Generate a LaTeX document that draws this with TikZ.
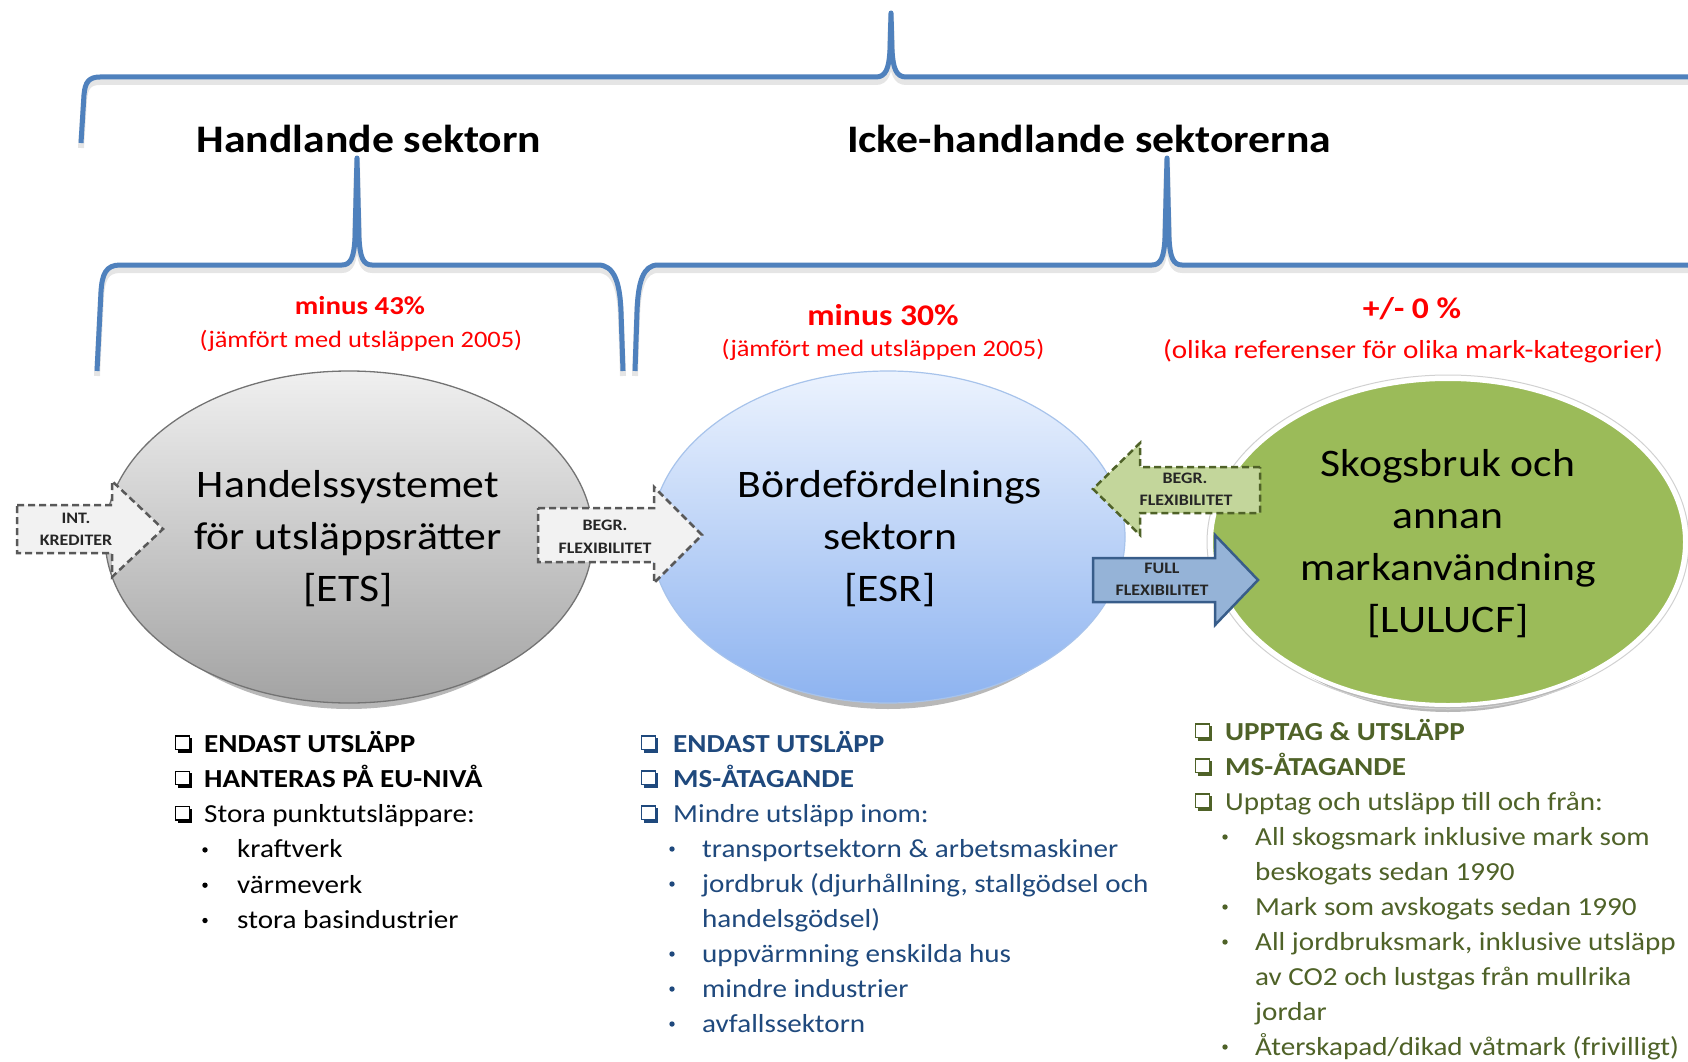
\documentclass[tikz,border=0pt]{standalone}
\usepackage{fontspec}
\setmainfont{Carlito}[FakeStretch=1.12]
\usetikzlibrary{shapes.geometric}
\definecolor{bracec}{HTML}{4F81BD}
\definecolor{esrtxt}{HTML}{1F497D}
\definecolor{lultxt}{HTML}{4F6228}
\definecolor{lulfill}{HTML}{9BBB59}
\definecolor{greyarr}{HTML}{F2F2F2}
\definecolor{greyline}{HTML}{595959}
\definecolor{grnarr}{HTML}{C3D69B}
\definecolor{bluarr}{HTML}{95B3D7}
\definecolor{bluline}{HTML}{385D8A}
\newcommand\fsz[1]{\fontsize{#1}{#1}\selectfont}
\newcommand\cbox[3]{%
  \draw[#3, line width=1.4pt] (#1+0.7,#2-16) rectangle (#1+14.3,#2-2.6);
  \draw[#3, line width=2.8pt] (#1+2.5,#2-0.8) -- (#1+16,#2-0.8) -- (#1+16,#2-14);}
\newcommand\bul[3]{\fill[#3] (#1,#2-8) circle (2.7pt);}
\tikzset{
  brace/.style={draw=bracec, line width=5pt, line join=round},
  braceshadow/.style={draw=black, opacity=0.10, line width=6pt, line join=round},
  ttl/.style={font=\fsz{39}\bfseries, anchor=base, inner sep=0pt},
  redb/.style={text=red, anchor=base, inner sep=0pt},
  elltxt/.style={font=\fsz{39}, anchor=base, inner sep=0pt},
  arrtxt/.style={font=\fsz{16}\bfseries, anchor=base, inner sep=0pt, text=black!85},
  dasharrow/.style={line width=2.5pt, dash pattern=on 7pt off 4pt, line join=miter},
  lst/.style={font=\fsz{26}, anchor=base west, inner sep=0pt},
  ellshadow/.style={fill=black, opacity=0.28},
}
\begin{document}
\begin{tikzpicture}[x=1pt,y=-1pt]
\useasboundingbox (0,0) rectangle (1688,1062);
\clip (0,0) rectangle (1688,1062);
\fill[white] (0,0) rectangle (1688,1062);

% ---------- braces ----------
\foreach \s/\d in {braceshadow/5, brace/0}{
\begin{scope}[yshift=-\d pt]
\draw[\s] (81,143) -- (84,95) .. controls (85,82) and (89,77) .. (100,77)
  -- (876,77) .. controls (886,77) and (889,68) .. (890,50) -- (891,13)
  -- (892,50) .. controls (893,68) and (896,77) .. (906,77) -- (1692,77);
\draw[\s] (97,371) -- (101,292) .. controls (102,274) and (106,265) .. (120,265)
  -- (342,265) .. controls (351,265) and (354,257) .. (355,238) -- (357,158)
  -- (359,238) .. controls (360,257) and (363,265) .. (372,265)
  -- (598,265) .. controls (614,265) and (620,282) .. (621,312) -- (623,371);
\draw[\s] (635,371) -- (637,312) .. controls (638,282) and (643,265) .. (658,265)
  -- (1152,265) .. controls (1161,265) and (1164,257) .. (1165,238) -- (1167,158)
  -- (1169,238) .. controls (1170,257) and (1173,265) .. (1182,265) -- (1692,265);
\end{scope}}

% ---------- titles ----------
\node[ttl] (hs) at (369,153) {Handlande sektorn};
\node[ttl] (ih) at (1089,153) {Icke-handlande sektorerna};

% ---------- red targets ----------
\node[redb, font=\fsz{25.8}\bfseries] (m43) at (360,314) {minus 43\%};
\node[redb, font=\fsz{23.6}] (j43) at (361,347) {(jämfört med utsläppen 2005)};
\node[redb, font=\fsz{30}\bfseries] (m30) at (883,325) {minus 30\%};
\node[redb, font=\fsz{23.6}] (j30) at (883,356) {(jämfört med utsläppen 2005)};
\node[redb, font=\fsz{30}\bfseries] (p0) at (1412,318) {+/- 0 \%};
\node[redb, font=\fsz{26}] (ol) at (1413,358) {(olika referenser för olika mark-kategorier)};

% ---------- ellipses ----------
\fill[ellshadow] (349,547) ellipse [x radius=226pt, y radius=162pt];
\fill[ellshadow] (888,547) ellipse [x radius=219pt, y radius=162pt];
\fill[ellshadow] (1448,552) ellipse [x radius=220pt, y radius=160pt];
\node[ellipse, minimum width=488pt, minimum height=332pt, inner sep=0pt,
  top color=black!6, bottom color=black!36, draw=black!55, line width=1.3pt] (ets) at (349,537) {};
\node[ellipse, minimum width=474pt, minimum height=332pt, inner sep=0pt,
  top color={rgb,255:red,236;green,243;blue,254}, bottom color={rgb,255:red,141;green,179;blue,240},
  draw={rgb,255:red,167;green,195;blue,235}, line width=1.2pt] (esr) at (888,537) {};
\node[ellipse, minimum width=482pt, minimum height=334pt, inner sep=0pt, draw=black!18, line width=1pt] (lulring) at (1448,542) {};
\node[ellipse, minimum width=474pt, minimum height=326pt, inner sep=0pt,
  fill=lulfill, draw=white, line width=4pt] (lul) at (1448,542) {};

\node[elltxt] (ets1) at (348,497) {Handelssystemet};
\node[elltxt] (ets2) at (348,549) {för utsläppsrätter};
\node[elltxt] (ets3) at (348,601) {[ETS]};
\node[elltxt] (esr1) at (890,497) {Bördefördelnings};
\node[elltxt] (esr2) at (890,549) {sektorn};
\node[elltxt] (esr3) at (890,601) {[ESR]};
\node[elltxt] (lul1) at (1448,476) {Skogsbruk och};
\node[elltxt] (lul2) at (1448,528) {annan};
\node[elltxt] (lul3) at (1448,580) {markanvändning};
\node[elltxt] (lul4) at (1448,632) {[LULUCF]};

% ---------- block arrows ----------
\draw[dasharrow, fill=greyarr, draw=greyline]
  (17,505) -- (112,505) -- (112,481) -- (163,529) -- (112,577) -- (112,553) -- (17,553) -- cycle;
\node[arrtxt] (int1) at (76,523) {INT.};
\node[arrtxt] (int2) at (76,545) {KREDITER};

\draw[dasharrow, fill=greyarr, draw=greyline]
  (538,508) -- (654,508) -- (654,487) -- (702,535) -- (654,583) -- (654,562) -- (538,562) -- cycle;
\node[arrtxt] (bg1) at (605,530) {BEGR.};
\node[arrtxt] (bg2) at (605,553) {FLEXIBILITET};

\draw[dasharrow, fill=grnarr, draw=lultxt]
  (1260,467) -- (1140,467) -- (1140,443) -- (1093,489) -- (1140,535) -- (1140,513) -- (1260,513) -- cycle;
\node[arrtxt] (gb1) at (1185,483) {BEGR.};
\node[arrtxt] (gb2) at (1186,505) {FLEXIBILITET};

\draw[line width=2.5pt, fill=bluarr, draw=bluline, line join=miter]
  (1093,558) -- (1215,558) -- (1215,535) -- (1258,580) -- (1215,625) -- (1215,602) -- (1093,602) -- cycle;
\node[arrtxt] (fl1) at (1162,573) {FULL};
\node[arrtxt] (fl2) at (1162,595) {FLEXIBILITET};

% ---------- ETS list ----------
\cbox{175}{752}{black}
\cbox{175}{787.3}{black}
\cbox{175}{822.6}{black}
\node[lst, font=\fsz{26}\bfseries] (a1) at (204,752) {ENDAST UTSLÄPP};
\node[lst, font=\fsz{26}\bfseries] (a2) at (204,787.3) {HANTERAS PÅ EU-NIVÅ};
\node[lst] (a3) at (204,822.6) {Stora punktutsläppare:};
\bul{205}{857.9}{black}
\bul{205}{893.2}{black}
\bul{205}{928.5}{black}
\node[lst] (a4) at (237,857.9) {kraftverk};
\node[lst] (a5) at (237,893.2) {värmeverk};
\node[lst] (a6) at (237,928.5) {stora basindustrier};

% ---------- ESR list ----------
\cbox{641}{752}{esrtxt}
\cbox{641}{787}{esrtxt}
\cbox{641}{822}{esrtxt}
\node[lst, text=esrtxt, font=\fsz{26}\bfseries] (b1) at (673,752) {ENDAST UTSLÄPP};
\node[lst, text=esrtxt, font=\fsz{26}\bfseries] (b2) at (673,787) {MS-ÅTAGANDE};
\node[lst, text=esrtxt] (b3) at (673,822) {Mindre utsläpp inom:};
\bul{672}{857}{esrtxt}
\bul{672}{892}{esrtxt}
\bul{672}{962}{esrtxt}
\bul{672}{997}{esrtxt}
\bul{672}{1032}{esrtxt}
\node[lst, text=esrtxt] (b4) at (702,857) {transportsektorn \& arbetsmaskiner};
\node[lst, text=esrtxt] (b5) at (702,892) {jordbruk (djurhållning, stallgödsel och};
\node[lst, text=esrtxt] (b6) at (702,927) {handelsgödsel)};
\node[lst, text=esrtxt] (b7) at (702,962) {uppvärmning enskilda hus};
\node[lst, text=esrtxt] (b8) at (702,997) {mindre industrier};
\node[lst, text=esrtxt] (b9) at (702,1032) {avfallssektorn};

% ---------- LULUCF list ----------
\cbox{1195}{740}{lultxt}
\cbox{1195}{775}{lultxt}
\cbox{1195}{810}{lultxt}
\node[lst, text=lultxt, font=\fsz{26}\bfseries] (c1) at (1225,740) {UPPTAG \& UTSLÄPP};
\node[lst, text=lultxt, font=\fsz{26}\bfseries] (c2) at (1225,775) {MS-ÅTAGANDE};
\node[lst, text=lultxt] (c3) at (1225,810) {Upptag och utsläpp till och från:};
\bul{1225}{845}{lultxt}
\bul{1225}{915}{lultxt}
\bul{1225}{950}{lultxt}
\bul{1225}{1055}{lultxt}
\node[lst, text=lultxt] (c4) at (1255,845) {All skogsmark inklusive mark som};
\node[lst, text=lultxt] (c5) at (1255,880) {beskogats sedan 1990};
\node[lst, text=lultxt] (c6) at (1255,915) {Mark som avskogats sedan 1990};
\node[lst, text=lultxt] (c7) at (1255,950) {All jordbruksmark, inklusive utsläpp};
\node[lst, text=lultxt] (c8) at (1255,985) {av CO2 och lustgas från mullrika};
\node[lst, text=lultxt] (c9) at (1255,1020) {jordar};
\node[lst, text=lultxt] (c10) at (1255,1055) {Återskapad/dikad våtmark (frivilligt)};
\end{tikzpicture}
\end{document}
